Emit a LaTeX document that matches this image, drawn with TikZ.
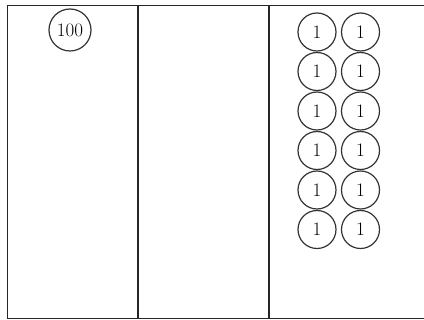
\documentclass[tikz,border=0pt]{standalone}
\usepackage{tikz}
\usetikzlibrary{positioning}

\begin{document}
\begin{tikzpicture}[
  x=1pt, y=-1pt,
  every node/.style={align=center, font=\fontsize{19}{19}\selectfont},
  column/.style={rectangle, draw=black!85, line width=1pt, minimum height=313pt, inner sep=0pt, anchor=north west},
  coin/.style={circle, draw=black!80, line width=1.2pt, minimum size=38pt, inner sep=0pt}
]
\useasboundingbox (0,0) rectangle (424,320);

% --- PLACE VALUE COLUMNS ---
\node[column, minimum width=130pt] (hundreds) at (7,5) {};
\node[column, minimum width=130pt] (tens) at (hundreds.north east) {};
\node[column, minimum width=155.5pt] (ones) at (tens.north east) {};

% --- HUNDRED COIN ---
\node[coin, minimum size=42pt] (hundred) at (70,30) {100};

% --- ONE COINS (6 rows, 2 per row) ---
\foreach \r in {0,...,5} {
  \foreach \c in {0,1} {
    \node[coin] (one-\r-\c) at (317+43.5*\c, 32+39.5*\r) {1};
  }
}

\end{tikzpicture}
\end{document}
